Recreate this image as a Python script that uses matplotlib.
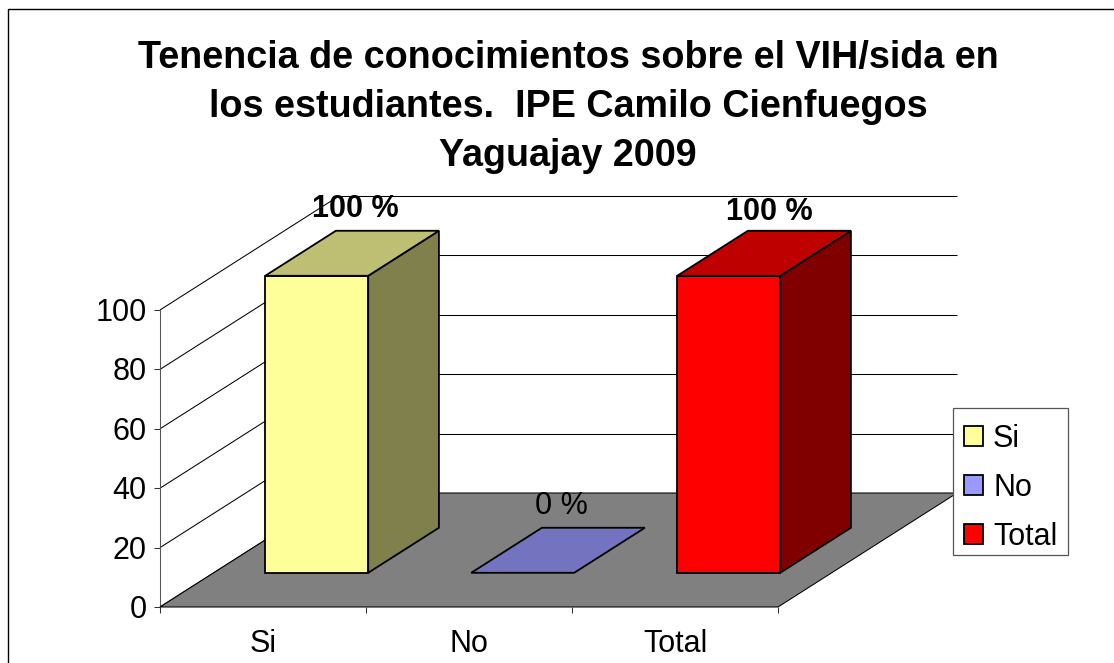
import matplotlib
matplotlib.use('Agg')
import matplotlib.pyplot as plt
from matplotlib.patches import Patch, Polygon, Rectangle

plt.rcParams['font.family'] = ['Liberation Sans', 'DejaVu Sans']

# datos
categorias = ['Si', 'No', 'Total']
valores = [100, 0, 100]
etiquetas = ['100 %', '0 %', '100 %']
ticks_y = [0, 20, 40, 60, 80, 100]
titulo = ['Tenencia de conocimientos sobre el VIH/sida en',
          'los estudiantes.  IPE Camilo Cienfuegos',
          'Yaguajay 2009']

colores = ['#FFFF99', '#9999FF', '#FF0000']
colores_lado = ['#80804D', '#4D4D80', '#800000']
colores_arriba = ['#BFBF73', '#7373BF', '#BF0000']

# caja 3D oblicua, en pixeles de la figura
X0, Y0 = 160.0, 607.0
ANCHO_CAT = 206.0
ALTO_UNIDAD = 2.97
FONDO_X, FONDO_Y = 179.0, -114.0
ANCHO_BARRA = 0.5
Z1, Z2 = 0.3, 0.695
FUENTE = 22


def proy(x, y, z):
    # x en categorias, y en valor, z de 0 (frente) a 1 (fondo)
    return (X0 + x * ANCHO_CAT + z * FONDO_X,
            Y0 - y * ALTO_UNIDAD + z * FONDO_Y)


def linea(ax, a, b, color='black', lw=0.75, zorder=2):
    ax.plot([a[0], b[0]], [a[1], b[1]], color=color, lw=lw, zorder=zorder,
            solid_capstyle='butt')


fig = plt.figure(figsize=(11.14, 6.63), dpi=100)
ax = fig.add_axes([0, 0, 1, 1])
ax.set_xlim(0, 1114)
ax.set_ylim(663, 0)
ax.axis('off')

# marco del grafico, cortado por la derecha y por abajo
ax.plot([7.5, 7.5, 1114], [663, 8.5, 8.5], color='black', lw=1.0, zorder=1)

n = len(categorias)

# paredes
for t in ticks_y:
    linea(ax, proy(0, t, 0), proy(0, t, 1))
    linea(ax, proy(0, t, 1), proy(n, t, 1))
    linea(ax, proy(0, t, 0), (X0 - 6, proy(0, t, 0)[1]), color='#333333')
    ax.text(X0 - 13.5, proy(0, t, 0)[1] + 3, str(t), fontsize=FUENTE, ha='right',
            va='center', color='black', zorder=6)
linea(ax, proy(0, 0, 0), proy(0, ticks_y[-1], 0), color='#555555')

# piso
piso = [proy(0, 0, 0), proy(n, 0, 0), proy(n, 0, 1), proy(0, 0, 1)]
ax.add_patch(Polygon(piso, closed=True, facecolor='#808080', edgecolor='black',
                     lw=0.75, zorder=3))

# eje de categorias
for i in range(n + 1):
    linea(ax, proy(i, 0, 0), (proy(i, 0, 0)[0], Y0 + 6), color='#333333', zorder=4)
for i, c in enumerate(categorias):
    ax.text(proy(i + 0.5, 0, 0)[0], 644, c, fontsize=FUENTE, ha='center', va='center',
            color='black', zorder=6)

# barras
ajuste_x = [0, 0, 2]
ajuste_y = [3, 3, 6]
for i, v in enumerate(valores):
    a = i + 0.5 - ANCHO_BARRA / 2
    b = i + 0.5 + ANCHO_BARRA / 2
    borde = dict(edgecolor='black', lw=1.3, joinstyle='miter', zorder=5)
    if v > 0:
        ax.add_patch(Polygon([proy(a, 0, Z1), proy(b, 0, Z1), proy(b, v, Z1), proy(a, v, Z1)],
                             closed=True, facecolor=colores[i], **borde))
        ax.add_patch(Polygon([proy(b, 0, Z1), proy(b, 0, Z2), proy(b, v, Z2), proy(b, v, Z1)],
                             closed=True, facecolor=colores_lado[i], **borde))
    ax.add_patch(Polygon([proy(a, v, Z1), proy(b, v, Z1), proy(b, v, Z2), proy(a, v, Z2)],
                         closed=True, facecolor=colores_arriba[i], **borde))
    cx, cy = proy(i + 0.5, v, 0.5)
    ax.text(cx + 3 + ajuste_x[i], cy - 47 + ajuste_y[i], etiquetas[i], fontsize=FUENTE,
            ha='center', va='center', fontweight='bold' if v > 0 else 'normal',
            color='black', zorder=7)

# titulo
for linea_txt, base in zip(titulo, [68, 117, 166]):
    ax.text(568, base, linea_txt, fontsize=27.2, fontweight='bold', ha='center',
            va='baseline', color='black', zorder=7)

# leyenda: el recuadro va aparte para ajustar el alto
ax.add_patch(Rectangle((953, 407.5), 115, 147, facecolor='white', edgecolor='#555555',
                       lw=0.9, zorder=8))
handles = [Patch(facecolor=colores[i], edgecolor='black', lw=1.3, label=categorias[i])
           for i in range(n)]
leg = ax.legend(handles=handles, loc='upper left', bbox_to_anchor=(953, 413),
                bbox_transform=ax.transData, fontsize=FUENTE, frameon=False,
                borderaxespad=0, borderpad=0.36,
                handlelength=0.62, handleheight=0.62, handletextpad=0.33,
                labelspacing=0.615)
leg.set_zorder(9)

fig.savefig('out.png', dpi=100, facecolor='white')
